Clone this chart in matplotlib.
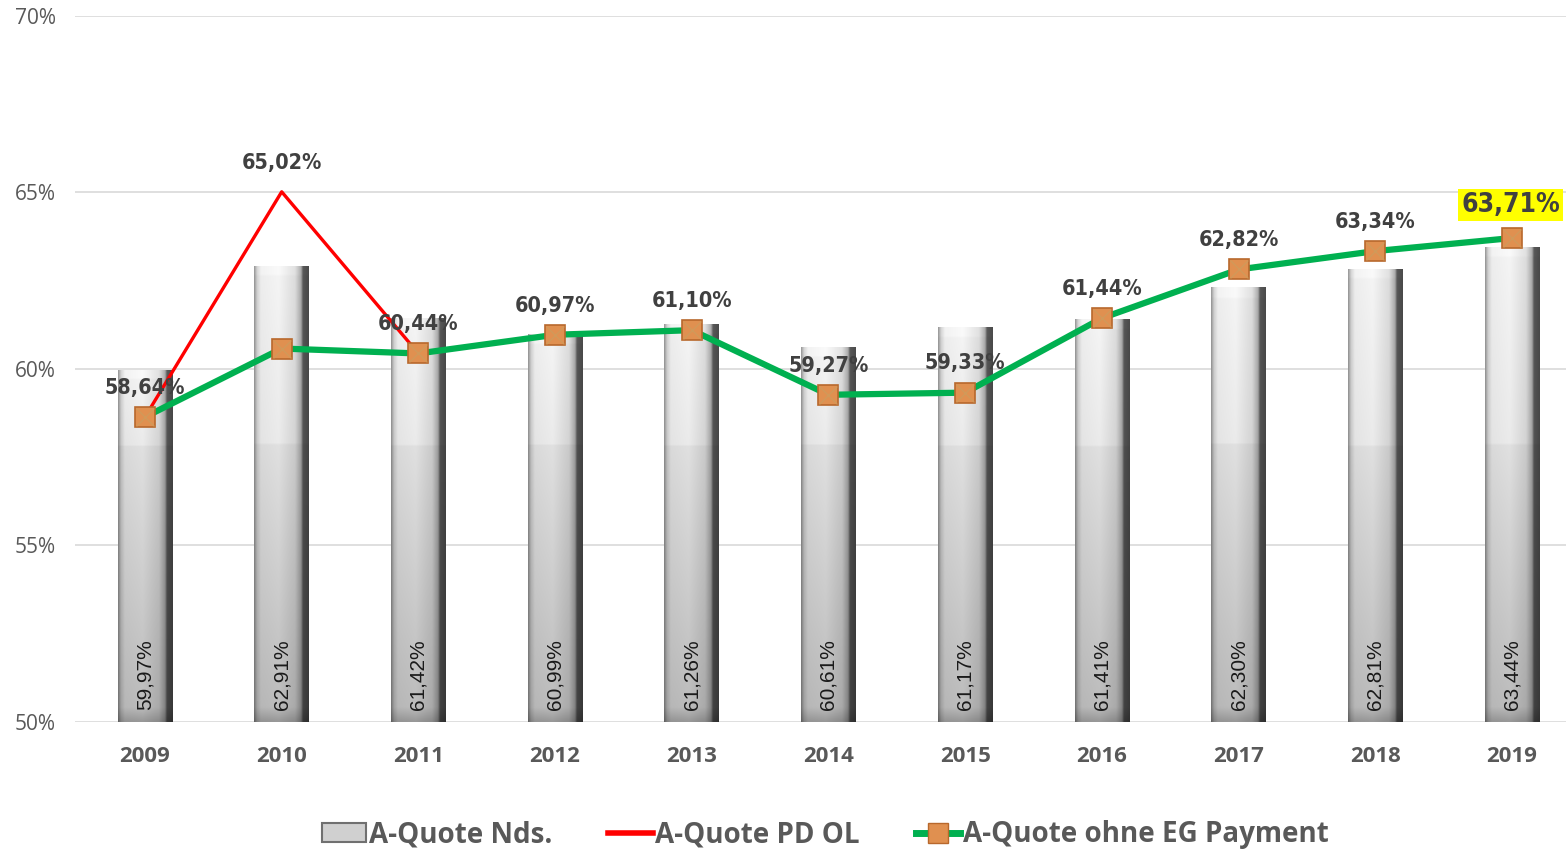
import numpy as np
import matplotlib
matplotlib.use("Agg")
import matplotlib.pyplot as plt
from matplotlib import font_manager
from matplotlib.patches import Patch
from matplotlib.lines import Line2D

# data
years = ["2009", "2010", "2011", "2012", "2013", "2014", "2015", "2016", "2017", "2018", "2019"]
nds = [59.97, 62.91, 61.42, 60.99, 61.26, 60.61, 61.17, 61.41, 62.30, 62.81, 63.44]
pd_ol = [58.64, 65.02, 60.44]
ohne_eg = [58.64, 60.58, 60.44, 60.97, 61.10, 59.27, 59.33, 61.44, 62.82, 63.34, 63.71]
line_labels = ["58,64%", "65,02%", "60,44%", "60,97%", "61,10%", "59,27%", "59,33%", "61,44%", "62,82%", "63,34%", "63,71%"]
line_label_vals = [58.64, 65.02, 60.44, 60.97, 61.10, 59.27, 59.33, 61.44, 62.82, 63.34, 63.71]
bar_labels = ["59,97%", "62,91%", "61,42%", "60,99%", "61,26%", "60,61%", "61,17%", "61,41%", "62,30%", "62,81%", "63,44%"]

# pick a narrow font for the point labels
names = {f.name for f in font_manager.fontManager.ttflist}
cond = [f for f in font_manager.fontManager.ttflist
        if f.name == "DejaVu Sans" and "ondensed" in str(f.stretch) + f.fname]
if "Liberation Sans Narrow" in names:
    narrow = dict(fontfamily="Liberation Sans Narrow")
elif cond:
    narrow = dict(fontfamily="DejaVu Sans", fontstretch="condensed")
else:
    narrow = dict(fontfamily="Roboto")

fig = plt.figure(figsize=(15.66, 8.52), dpi=100)
ax = fig.add_axes([75 / 1566, 130 / 852, 1 - 75 / 1566, (722 - 16) / 852])

x = np.arange(len(years))
ax.set_xlim(-0.512, 10.395)
ax.set_ylim(50, 70)

# grid
ax.set_yticks([50, 55, 60, 65, 70])
ax.set_yticklabels(["50%", "55%", "60%", "65%", "70%"])
ax.yaxis.grid(True, color="#d9d9d9", lw=1.2, zorder=0)
ax.set_axisbelow(True)
for s in ax.spines.values():
    s.set_visible(False)
ax.tick_params(axis="y", length=0, pad=14, labelsize=15, labelcolor="#595959")
ax.tick_params(axis="x", length=0, pad=17, labelsize=16, labelcolor="#595959")
ax.set_xticks(x)
ax.set_xticklabels(years, fontweight="bold")
for t in ax.get_yticklabels():
    t.set_fontfamily("Open Sans")
for t in ax.get_xticklabels():
    t.set_fontfamily("Open Sans")

# bars as gradient images
bw = 0.4
t = np.linspace(0, 1, 60)
hprof = np.interp(t, [0, 0.05, 0.12, 0.45, 0.75, 0.86, 0.9, 1.0],
                  [0.62, 0.85, 0.97, 1.0, 0.9, 0.7, 0.35, 0.3])
for xi, h in zip(x, nds):
    vals = np.linspace(h, 50, 200)
    vprof = np.where(vals > 57.85, 0.96 - 0.04 * (h - vals) / max(h - 57.85, 0.1),
                     np.interp(vals, [50, 50.4, 57.85], [0.6, 0.74, 0.88]))
    top = vals > h - 0.25
    vprof = np.where(top, 0.98, vprof)
    g = np.clip(np.outer(vprof, hprof), 0, 1)
    img = np.dstack([g, g, g])
    ax.imshow(img, extent=(xi - bw / 2, xi + bw / 2, 50, h), aspect="auto",
              interpolation="bilinear", zorder=2)
    ax.text(xi, 50.35, bar_labels[xi], rotation=90, ha="center", va="bottom",
            fontsize=15, color="#1a1a1a", fontfamily="Liberation Sans", zorder=6)

# lines
ax.plot(x[:3], pd_ol, color="#ff0000", lw=2.4, zorder=3)
ax.plot(x, ohne_eg, color="#00b050", lw=4.5, zorder=4, solid_capstyle="round")
ax.plot(x, ohne_eg, ls="none", marker="s", markersize=15, markerfacecolor="#e09050",
        markeredgecolor="#b8682c", markeredgewidth=1.2, zorder=5)
ax.plot(x, ohne_eg, ls="none", marker="x", markersize=13, markeredgecolor="#c8a060",
        markeredgewidth=1, alpha=0.6, zorder=5)

# point labels
for i, (lab, v) in enumerate(zip(line_labels, line_label_vals)):
    if i == len(line_labels) - 1:
        ax.annotate(lab, (x[i], v), xytext=(-1, 24), textcoords="offset points",
                    ha="center", va="center", fontsize=19, fontweight="bold",
                    color="#404040", zorder=7,
                    bbox=dict(boxstyle="square,pad=0.12", fc="#ffff00", ec="none"), **narrow)
    else:
        ax.annotate(lab, (x[i], v), xytext=(0, 21), textcoords="offset points",
                    ha="center", va="center", fontsize=15.5, fontweight="bold",
                    color="#404040", zorder=7, **narrow)

# legend
handles = [
    Patch(facecolor="#d0d0d0", edgecolor="#707070", lw=1.5),
    Line2D([], [], color="#ff0000", lw=4),
    Line2D([], [], color="#00b050", lw=5, marker="s", markersize=14,
           markerfacecolor="#e09050", markeredgecolor="#b8682c"),
]
leg = fig.legend(handles, ["A-Quote Nds.", "A-Quote PD OL", "A-Quote ohne EG Payment"],
                 loc="center", bbox_to_anchor=(0.527, 0.02), ncol=3, frameon=False,
                 handlelength=1.6, handletextpad=0.1, columnspacing=2.0,
                 prop={"family": "Open Sans", "weight": "bold", "size": 20})
for txt in leg.get_texts():
    txt.set_color("#595959")

fig.savefig("out.png", dpi=100)
